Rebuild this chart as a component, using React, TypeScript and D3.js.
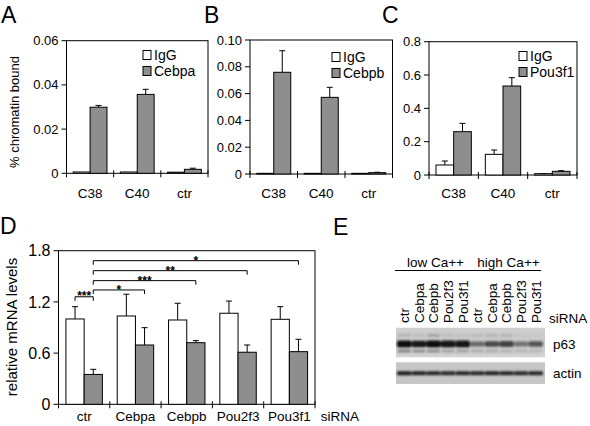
import React from 'react';
import * as d3 from 'd3';

const FONT = "'Liberation Sans', Arial, Helvetica, sans-serif";

// ---- Panels A-C: ChIP data ----
const chipCategories = ['C38', 'C40', 'ctr'];
const cebpaIgG = [0.0006, 0.0006, 0.0005];
const cebpaIgGErrors = [0, 0, 0];
const cebpaValues = [0.0299, 0.0357, 0.0018];
const cebpaErrors = [0.0008, 0.0023, 0.0005];
const cebpbIgG = [0.0005, 0.0005, 0.0005];
const cebpbIgGErrors = [0, 0, 0];
const cebpbValues = [0.0759, 0.0572, 0.001];
const cebpbErrors = [0.0161, 0.0075, 0.0003];
const pou3f1IgG = [0.06, 0.124, 0.008];
const pou3f1IgGErrors = [0.024, 0.026, 0.001];
const pou3f1Values = [0.26, 0.534, 0.022];
const pou3f1Errors = [0.05, 0.05, 0.004];
const ticksA = [0, 0.02, 0.04, 0.06];
const ticksB = [0, 0.02, 0.04, 0.06, 0.08, 0.1];
const ticksC = [0, 0.2, 0.4, 0.6, 0.8];

// ---- Panel D: mRNA ----
const sirnaCategories = ['ctr', 'Cebpa', 'Cebpb', 'Pou2f3', 'Pou3f1'];
const mrnaWhite = [1.0, 1.035, 0.988, 1.067, 0.996];
const mrnaWhiteErrors = [0.144, 0.255, 0.196, 0.143, 0.148];
const mrnaGray = [0.35, 0.695, 0.722, 0.61, 0.617];
const mrnaGrayErrors = [0.06, 0.203, 0.024, 0.085, 0.145];
const ticksD = [0, 0.6, 1.2, 1.8];
const sigTargets = ['Cebpa', 'Cebpb', 'Pou2f3', 'Pou3f1'];
const sigLabels = ['*', '***', '**', '*'];
const sigLevels = [1.34, 1.449, 1.566, 1.683];
const ctrSigLabel = '***';
const ctrSigLevel = 1.26;

// ---- Panel E: western blot ----
const blotLanes = ['ctr', 'Cebpa', 'Cebpb', 'Pou2f3', 'Pou3f1', 'ctr', 'Cebpa', 'Cebpb', 'Pou2f3', 'Pou3f1'];
const blotConditions = ['low Ca++', 'high Ca++'];
const p63Intensity = [0.97, 0.93, 0.99, 0.94, 0.95, 0.5, 0.68, 0.7, 0.45, 0.6];
const p63Upper = [0.15, 0.1, 0.25, 0.1, 0.08, 0.12, 0.15, 0.15, 0.05, 0.05];
const p63Lower = [0.35, 0.3, 0.3, 0.2, 0.2, 0.15, 0.15, 0.12, 0.1, 0.1];
const actinIntensity = [0.88, 0.86, 0.84, 0.82, 0.84, 0.82, 0.86, 0.85, 0.82, 0.84];

const GRAY = '#8e8e8e';

function fmtTick(f: (n: number) => string) {
  return (t: number) => (t === 0 ? '0' : f(t));
}

type PanelProps = {
  x0: number; x1: number; y0: number; y1: number; max: number;
  ticks: number[]; fmt: (n: number) => string; cats: string[];
  white: number[]; whiteErr: number[]; gray: number[]; grayErr: number[];
  pad: number; tickFont: number; catFont: number; catY: number;
};

function BarPanel(p: PanelProps) {
  const x = d3.scaleBand<string>().domain(p.cats).range([p.x0, p.x1]).padding(0);
  const bw = x.bandwidth();
  const inner = d3.scaleBand<string>().domain(['w', 'g']).range([bw * p.pad, bw * (1 - p.pad)]).padding(0);
  const y = d3.scaleLinear().domain([0, p.max]).range([p.y1, p.y0]);
  const ib = inner.bandwidth();
  const bars: any[] = [];
  p.cats.forEach((c, i) => {
    const series = [
      { key: 'w', v: p.white[i], e: p.whiteErr[i], fill: '#ffffff' },
      { key: 'g', v: p.gray[i], e: p.grayErr[i], fill: GRAY },
    ];
    series.forEach((s) => {
      const bx = (x(c) as number) + (inner(s.key) as number);
      const cx = bx + ib / 2;
      bars.push(
        <g key={c + s.key}>
          {s.e > 0 && (
            <g stroke="#000" strokeWidth={1}>
              <line x1={cx} x2={cx} y1={y(s.v)} y2={y(s.v + s.e)} />
              <line x1={cx - 3} x2={cx + 3} y1={y(s.v + s.e)} y2={y(s.v + s.e)} />
            </g>
          )}
          <rect x={bx} y={y(s.v)} width={ib} height={p.y1 - y(s.v)} fill={s.fill} stroke="#000" strokeWidth={1} />
        </g>
      );
    });
  });
  const bounds = [...p.cats.map((c) => x(c) as number), p.x1];
  return (
    <g>
      <rect x={p.x0} y={p.y0} width={p.x1 - p.x0} height={p.y1 - p.y0} fill="none" stroke="#000" strokeWidth={1} />
      {p.ticks.map((t) => (
        <g key={t}>
          <line x1={p.x0 - 5} x2={p.x0} y1={y(t)} y2={y(t)} stroke="#000" />
          <text x={p.x0 - 8} y={y(t)} dy="0.35em" textAnchor="end" fontSize={p.tickFont} fontFamily={FONT}>
            {p.fmt(t)}
          </text>
        </g>
      ))}
      {bars}
      {bounds.map((b, i) => (
        <line key={i} x1={b} x2={b} y1={p.y1 - 3} y2={p.y1 + 4} stroke="#000" />
      ))}
      {p.cats.map((c) => (
        <text key={c} x={(x(c) as number) + bw / 2} y={p.catY} textAnchor="middle" fontSize={p.catFont} fontFamily={FONT}>
          {c}
        </text>
      ))}
    </g>
  );
}

function Legend({ x, y, label }: { x: number; y: number; label: string }) {
  return (
    <g fontFamily={FONT} fontSize={14}>
      <rect x={x} y={y - 4.5} width={8} height={9} fill="#fff" stroke="#000" />
      <text x={x + 11} y={y} dy="0.35em">IgG</text>
      <rect x={x} y={y + 16 - 4.5} width={8} height={9} fill={GRAY} stroke="#000" />
      <text x={x + 11} y={y + 16} dy="0.35em">{label}</text>
    </g>
  );
}

function PanelD() {
  const x0 = 58.5, x1 = 315, y0 = 250.7, y1 = 404.3;
  const x = d3.scaleBand<string>().domain(sirnaCategories).range([x0, x1]).padding(0);
  const bw = x.bandwidth();
  const pad = 0.145;
  const inner = d3.scaleBand<string>().domain(['w', 'g']).range([bw * pad, bw * (1 - pad)]);
  const y = d3.scaleLinear().domain([0, 1.8]).range([y1, y0]);
  const cxOf = (c: string, k: string) => (x(c) as number) + (inner(k) as number) + inner.bandwidth() / 2;
  const from = cxOf('ctr', 'g');
  return (
    <g>
      <BarPanel x0={x0} x1={x1} y0={y0} y1={y1} max={1.8} ticks={ticksD} fmt={fmtTick(d3.format('.1f'))}
        cats={sirnaCategories} white={mrnaWhite} whiteErr={mrnaWhiteErrors} gray={mrnaGray} grayErr={mrnaGrayErrors}
        pad={pad} tickFont={16} catFont={13.5} catY={421} />
      <g stroke="#000" strokeWidth={1} fill="none">
        {sigTargets.map((t, i) => {
          const to = cxOf(t, 'g');
          const ly = y(sigLevels[i]);
          return <path key={t} d={`M${from},${ly + 4}V${ly}H${to}V${ly + 4}`} />;
        })}
        <path d={`M${cxOf('ctr', 'w')},${y(ctrSigLevel) + 4}V${y(ctrSigLevel)}H${from}V${y(ctrSigLevel) + 4}`} />
      </g>
      <g fontFamily={FONT} fontSize={12} fontWeight="bold" textAnchor="middle">
        {sigTargets.map((t, i) => (
          <text key={t} x={(from + cxOf(t, 'g')) / 2} y={y(sigLevels[i]) + 4}>{sigLabels[i]}</text>
        ))}
        <text x={(cxOf('ctr', 'w') + from) / 2} y={y(ctrSigLevel) + 3}>{ctrSigLabel}</text>
      </g>
      <text x={340} y={421} textAnchor="middle" fontSize={13.5} fontFamily={FONT}>siRNA</text>
      <text transform={`translate(17,327) rotate(-90)`} textAnchor="middle" fontSize={15} fontFamily={FONT}>
        relative mRNA levels
      </text>
    </g>
  );
}

function PanelE() {
  const bx0 = 396, bx1 = 545;
  const lane = d3.scaleBand<number>().domain(blotLanes.map((_, i) => i)).range([bx0 + 1, bx1 - 2]).padding(0);
  const step = lane.bandwidth();
  const shade = (v: number, bg: string) => d3.interpolateRgb(bg, '#080808')(v);
  const p63Top = 327.7, p63Bot = 357.3, actTop = 362.3, actBot = 384;
  const groupX = [
    [lane(0) as number, (lane(4) as number) + step],
    [lane(5) as number, (lane(9) as number) + step],
  ];
  return (
    <g fontFamily={FONT}>
      <defs>
        <filter id="blotBlur" x="-20%" y="-50%" width="140%" height="200%">
          <feGaussianBlur stdDeviation="1.1" />
        </filter>
        <linearGradient id="p63bg" x1="0" x2="0" y1="0" y2="1">
          <stop offset="0" stopColor="#cfcfcf" />
          <stop offset="0.5" stopColor="#c9c9c9" />
          <stop offset="1" stopColor="#d3d3d3" />
        </linearGradient>
      </defs>
      {blotConditions.map((c, i) => (
        <g key={c}>
          <text x={(groupX[i][0] + groupX[i][1]) / 2 + 2} y={267} textAnchor="middle" fontSize={13.5}>{c}</text>
          <line x1={groupX[i][0] - 2} x2={groupX[i][1] - 2} y1={270.5} y2={270.5} stroke="#000" />
        </g>
      ))}
      {blotLanes.map((l, i) => (
        <text key={i} transform={`translate(${(lane(i) as number) + step / 2},323) rotate(-90)`} dy="0.36em" fontSize={13.5}>
          {l}
        </text>
      ))}
      <text x={549} y={323} fontSize={13.5}>siRNA</text>
      <rect x={bx0} y={p63Top} width={bx1 - bx0} height={p63Bot - p63Top} fill="url(#p63bg)" />
      <rect x={bx0} y={actTop} width={bx1 - bx0} height={actBot - actTop} fill="#c6c6c6" />
      <g filter="url(#blotBlur)">
        {blotLanes.map((_, i) => {
          const lx = lane(i) as number;
          const v = p63Intensity[i];
          const h = 3 + v * 4;
          return (
            <g key={i}>
              <rect x={lx} y={344 - h / 2} width={step} height={h} rx={2} fill={shade(v, '#c9c9c9')} />
              <rect x={lx + 1} y={334} width={step - 2} height={2.5} fill={shade(p63Upper[i], '#cfcfcf')} />
              <rect x={lx + 1} y={349.5} width={step - 2} height={3} fill={shade(p63Lower[i], '#c9c9c9')} />
            </g>
          );
        })}
        {blotLanes.map((_, i) => {
          const lx = lane(i) as number;
          const v = actinIntensity[i];
          return <rect key={i} x={lx} y={371.3} width={step} height={4} rx={1.5} fill={shade(v, '#c6c6c6')} />;
        })}
      </g>
      <text x={553} y={344} dy="0.36em" fontSize={13.5}>p63</text>
      <text x={553} y={373.5} dy="0.36em" fontSize={13.5}>actin</text>
    </g>
  );
}

export default function App() {
  return (
    <svg width={590} height={426} viewBox="0 0 590 426" style={{ position: 'absolute', left: 0, top: 0, background: '#fff' }}>
      <rect width={590} height={426} fill="#fff" />
      <g fontFamily={FONT} fontSize={23}>
        <text x={1} y={23}>A</text>
        <text x={204} y={23}>B</text>
        <text x={382} y={23}>C</text>
        <text x={0} y={234}>D</text>
        <text x={333} y={235}>E</text>
      </g>
      <text transform="translate(19,112) rotate(-90)" textAnchor="middle" fontSize={13} fontFamily={FONT}>
        % chromatin bound
      </text>
      <BarPanel x0={66.5} x1={208} y0={40.7} y1={173.3} max={0.06} ticks={ticksA} fmt={fmtTick(d3.format('.2f'))}
        cats={chipCategories} white={cebpaIgG} whiteErr={cebpaIgGErrors} gray={cebpaValues} grayErr={cebpaErrors}
        pad={0.142} tickFont={13} catFont={13.5} catY={198} />
      <Legend x={143} y={55} label="Cebpa" />
      <BarPanel x0={250} x1={392.5} y0={40} y1={174} max={0.1} ticks={ticksB} fmt={fmtTick(d3.format('.2f'))}
        cats={chipCategories} white={cebpbIgG} whiteErr={cebpbIgGErrors} gray={cebpbValues} grayErr={cebpbErrors}
        pad={0.142} tickFont={13} catFont={13.5} catY={198} />
      <Legend x={332} y={57} label="Cebpb" />
      <BarPanel x0={429} x1={577} y0={41.7} y1={175} max={0.8} ticks={ticksC} fmt={fmtTick(d3.format('.1f'))}
        cats={chipCategories} white={pou3f1IgG} whiteErr={pou3f1IgGErrors} gray={pou3f1Values} grayErr={pou3f1Errors}
        pad={0.142} tickFont={13} catFont={13.5} catY={198} />
      <Legend x={519} y={56} label="Pou3f1" />
      <PanelD />
      <PanelE />
    </svg>
  );
}
